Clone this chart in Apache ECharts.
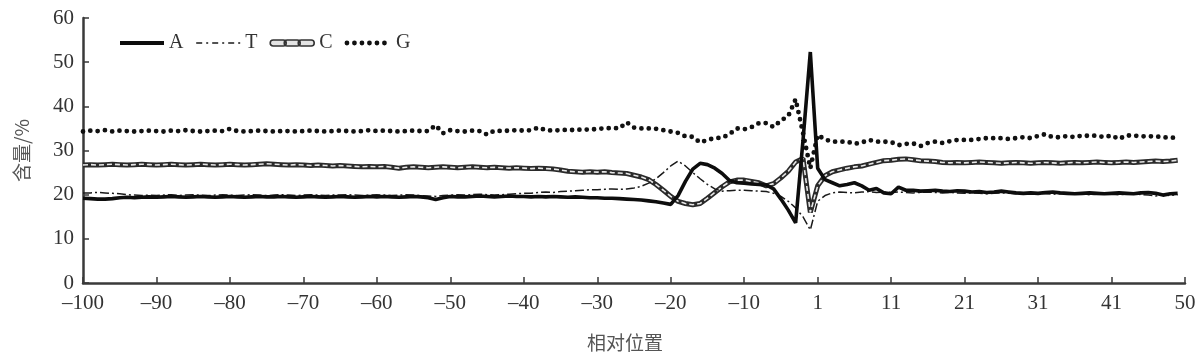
<!DOCTYPE html>
<html><head><meta charset="utf-8">
<script src="https://cdn.jsdelivr.net/npm/echarts@6/dist/echarts.min.js"></script>
<style>html,body{margin:0;padding:0;background:#fff}#c{width:1200px;height:360px}</style>
</head><body><div id="c"></div>
<script>
// Positions: -100..-1 then 1..50 (no 0)
const POSITIONS = [];
for (let p = -100; p <= 50; p++) { if (p !== 0) POSITIONS.push(p); }
// Tick labels every 10 slots along the axis
const TICK_LABELS = ['\u2013100','\u201390','\u201380','\u201370','\u201360','\u201350','\u201340','\u201330','\u201320','\u201310','1','11','21','31','41','50'];
const SERIES_NAMES = ['A','T','C','G'];

const A_VALUES = [
 19.2,19.1,19.0,19.0,19.1,19.3,19.4,19.3,19.4,19.5,
 19.4,19.5,19.6,19.5,19.4,19.5,19.6,19.5,19.4,19.5,
 19.6,19.5,19.4,19.5,19.6,19.5,19.5,19.6,19.5,19.4,
 19.5,19.6,19.5,19.4,19.5,19.6,19.5,19.4,19.5,19.6,
 19.5,19.6,19.5,19.4,19.5,19.6,19.5,19.3,18.9,19.3,
 19.6,19.5,19.5,19.6,19.7,19.6,19.5,19.6,19.7,19.6,
 19.6,19.5,19.6,19.5,19.6,19.5,19.4,19.5,19.4,19.3,
 19.3,19.2,19.2,19.1,19.0,18.9,18.8,18.6,18.4,18.1,
 17.8,19.8,23.0,25.8,27.1,26.8,26.0,24.8,23.2,22.7,
 22.6,22.4,22.3,22.2,21.3,19.0,16.5,13.6,32.2,52.3,
 26.0,23.4,22.7,22.0,22.3,22.7,22.0,21.0,21.4,20.4,
 20.2,21.7,21.0,21.0,20.8,20.9,21.0,20.8,20.7,20.9,
 20.8,20.6,20.7,20.5,20.6,20.8,20.6,20.4,20.3,20.4,
 20.3,20.5,20.6,20.4,20.3,20.2,20.3,20.4,20.3,20.2,
 20.3,20.4,20.3,20.2,20.4,20.5,20.3,19.9,20.2,20.3
];
const T_VALUES = [
 20.4,20.4,20.5,20.4,20.3,20.2,20.0,19.9,19.8,19.9,
 19.8,19.9,20.0,19.8,19.9,20.0,19.9,19.8,19.9,20.0,
 19.9,19.8,19.9,20.0,19.9,19.8,19.9,20.0,19.9,19.8,
 19.9,20.0,19.9,19.8,19.9,19.9,20.0,19.9,19.8,19.9,
 20.0,19.9,19.8,19.9,20.0,19.9,19.8,19.7,19.6,19.8,
 19.9,20.0,19.9,20.0,20.1,20.0,19.9,20.0,20.1,20.2,
 20.3,20.3,20.5,20.6,20.5,20.7,20.8,20.9,21.0,21.1,
 21.1,21.2,21.3,21.2,21.3,21.5,21.9,22.6,23.6,25.0,
 26.5,27.6,26.5,25.0,23.6,22.3,21.3,20.8,20.9,21.0,
 21.0,20.9,20.8,20.7,20.3,19.6,18.5,17.0,15.0,12.0,
 18.5,19.8,20.4,20.6,20.5,20.4,20.6,20.7,20.5,20.6,
 20.5,20.6,20.5,20.4,20.5,20.6,20.5,20.4,20.5,20.4,
 20.3,20.4,20.3,20.2,20.3,20.4,20.3,20.2,20.1,20.2,
 20.3,20.2,20.1,20.2,20.3,20.2,20.1,20.0,20.1,20.2,
 20.1,20.0,20.1,20.2,20.0,19.9,19.7,20.0,19.8,20.0
];
const C_VALUES = [
 26.7,26.8,26.7,26.8,26.9,26.8,26.7,26.8,26.9,26.8,
 26.7,26.8,26.9,26.8,26.7,26.8,26.9,26.8,26.7,26.8,
 26.9,26.8,26.7,26.8,26.9,27.0,26.9,26.8,26.7,26.8,
 26.7,26.6,26.7,26.6,26.5,26.6,26.5,26.4,26.3,26.4,
 26.3,26.4,26.2,26.0,26.2,26.3,26.2,26.1,26.2,26.3,
 26.2,26.1,26.2,26.3,26.2,26.1,26.2,26.1,26.0,26.1,
 26.0,25.9,26.0,25.9,25.8,25.6,25.3,25.2,25.1,25.2,
 25.1,25.2,25.0,24.9,24.8,24.4,24.0,23.4,22.3,21.0,
 19.6,18.5,18.0,17.7,18.0,19.2,20.5,21.8,22.9,23.3,
 23.3,23.0,22.7,22.0,22.5,23.8,25.3,27.4,28.2,16.0,
 22.0,24.3,25.2,25.6,26.0,26.3,26.5,26.9,27.3,27.7,
 27.8,28.0,28.1,27.9,27.7,27.6,27.5,27.3,27.2,27.3,
 27.2,27.3,27.4,27.3,27.2,27.1,27.2,27.3,27.2,27.1,
 27.2,27.3,27.2,27.1,27.2,27.3,27.2,27.3,27.4,27.3,
 27.2,27.3,27.4,27.3,27.4,27.5,27.6,27.5,27.6,27.8
];
const G_VALUES = [
 34.3,34.5,34.4,34.6,34.3,34.5,34.4,34.3,34.4,34.5,
 34.4,34.3,34.5,34.4,34.6,34.4,34.3,34.4,34.5,34.4,
 34.9,34.4,34.3,34.4,34.5,34.4,34.3,34.4,34.4,34.3,
 34.4,34.5,34.4,34.3,34.4,34.5,34.4,34.3,34.4,34.6,
 34.4,34.5,34.4,34.3,34.4,34.5,34.4,34.4,35.7,33.9,
 34.6,34.4,34.3,34.5,34.4,33.6,34.5,34.4,34.5,34.6,
 34.5,34.6,35.2,34.6,34.5,34.6,34.7,34.6,34.8,34.7,
 34.9,35.0,35.1,35.0,36.4,35.2,35.0,35.0,34.9,34.6,
 34.3,34.0,33.2,33.1,31.8,32.4,32.8,32.9,33.7,35.0,
 34.8,35.3,36.2,36.2,35.3,36.8,37.8,41.6,34.0,26.0,
 33.5,32.5,32.0,32.0,32.0,31.5,31.8,32.4,32.0,32.0,
 31.9,31.2,31.5,31.6,31.0,31.7,32.0,31.7,32.1,32.4,
 32.4,32.4,32.6,32.8,32.8,32.8,32.6,32.8,33.0,32.8,
 33.3,33.7,33.0,33.0,33.3,33.0,33.4,33.3,33.4,33.0,
 33.4,32.6,33.4,33.4,33.2,33.2,33.2,33.0,32.9,32.9
];

const toPairs = vals => vals.map((v, i) => [i, v]);
const serif = '"Liberation Serif", "DejaVu Serif", serif';
const cjk = '"Noto Sans CJK SC", sans-serif';
const axisCol = '#3a3a3a';
const noSym = {opacity: 0};

const chart = echarts.init(document.getElementById('c'), null, {renderer: 'canvas'});
chart.setOption({
  animation: false,
  backgroundColor: '#fff',
  grid: {left: 83, right: 15, top: 18, bottom: 77, containLabel: false},
  legend: {
    left: 113, top: 28, itemWidth: 44, itemHeight: 12, itemGap: 12,
    textStyle: {fontFamily: serif, fontSize: 20, color: '#333'},
    data: [
      {name: 'A', itemStyle: noSym, lineStyle: {color: '#0d0d0d', width: 4}},
      {name: 'T', itemStyle: noSym, lineStyle: {color: '#1a1a1a', width: 1.5, type: [6, 4, 2, 4]}},
      {name: 'C', icon: 'path://M1,0h10a2,2 0 0 1 0,6h-10a2,2 0 0 1 0,-6z M15,0h10a2,2 0 0 1 0,6h-10a2,2 0 0 1 0,-6z M29,0h10a2,2 0 0 1 0,6h-10a2,2 0 0 1 0,-6z',
        itemStyle: {color: '#e4e4e4', borderColor: '#333', borderWidth: 1.6, opacity: 1}},
      {name: 'G', itemStyle: noSym, lineStyle: {color: '#111', width: 4.8, type: [0, 7.5], cap: 'round'}}
    ]
  },
  xAxis: {
    type: 'value', min: 0, max: 150, interval: 10,
    name: '相对位置', nameLocation: 'middle', nameGap: 50,
    nameTextStyle: {fontFamily: cjk, fontSize: 19, color: '#555', padding: [0, 18, 0, 0]},
    axisLine: {show: true, onZero: false, lineStyle: {color: axisCol, width: 2.5}},
    axisTick: {show: true, inside: true, length: 6, lineStyle: {color: axisCol, width: 1.5}},
    axisLabel: {
      fontFamily: serif, fontSize: 21, color: '#333', margin: 10,
      showMinLabel: true, showMaxLabel: true,
      formatter: v => { const k = Math.round(v / 10); return TICK_LABELS[k] !== undefined ? TICK_LABELS[k] : ''; }
    },
    splitLine: {show: false}
  },
  yAxis: {
    type: 'value', min: 0, max: 60, interval: 10,
    name: '含量/%', nameLocation: 'middle', nameGap: 52, nameRotate: 90,
    nameTextStyle: {fontFamily: cjk, fontSize: 19, color: '#555'},
    axisLine: {show: true, lineStyle: {color: axisCol, width: 2.5}},
    axisTick: {show: true, inside: true, length: 6, lineStyle: {color: axisCol, width: 1.5}},
    axisLabel: {fontFamily: serif, fontSize: 21, color: '#333', margin: 9},
    splitLine: {show: false}
  },
  series: [
    {name: 'G', type: 'line', data: toPairs(G_VALUES), symbol: 'none', showSymbol: false, z: 2,
     lineStyle: {color: '#111', width: 4.8, type: [0, 7.35], cap: 'round'}, itemStyle: {color: '#111'}},
    {name: 'C', type: 'line', data: toPairs(C_VALUES), symbol: 'none', showSymbol: false, z: 3,
     lineStyle: {color: '#2a2a2a', width: 5}, itemStyle: {color: '#2a2a2a'}},
    {name: 'C', type: 'line', data: toPairs(C_VALUES), symbol: 'none', showSymbol: false, z: 4, silent: true,
     lineStyle: {color: '#e8e8e8', width: 1.6, type: [5, 3]}, itemStyle: {color: '#e8e8e8'}},
    {name: 'T', type: 'line', data: toPairs(T_VALUES), symbol: 'none', showSymbol: false, z: 5,
     lineStyle: {color: '#1a1a1a', width: 1.5, type: [9, 3, 2, 3]}, itemStyle: {color: '#1a1a1a'}},
    {name: 'A', type: 'line', data: toPairs(A_VALUES), symbol: 'none', showSymbol: false, z: 6,
     lineStyle: {color: '#0d0d0d', width: 3.6}, itemStyle: {color: '#0d0d0d'}}
  ]
});
</script></body></html>
